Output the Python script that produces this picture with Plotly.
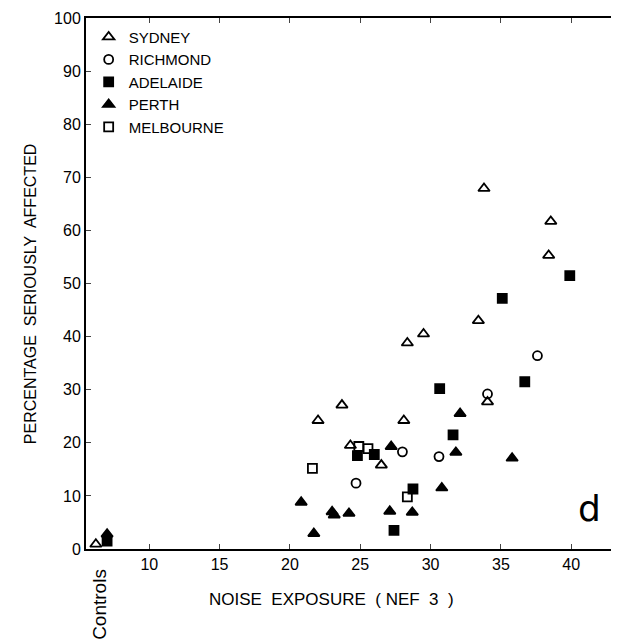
import plotly.graph_objects as go

# readings from the scanned figure (NEF, % seriously affected)
sydney_x = [6.2, 22.0, 23.7, 24.3, 26.5, 28.1, 28.35, 29.5, 33.4, 33.8, 34.05, 38.4, 38.55]
sydney_y = [0.9, 24.2, 27.1, 19.5, 15.8, 24.2, 38.8, 40.5, 43.0, 67.9, 27.7, 55.3, 61.7]

richmond_x = [24.7, 28.0, 30.6, 34.05, 37.6]
richmond_y = [12.4, 18.3, 17.4, 29.2, 36.4]

adelaide_x = [7.0, 24.8, 26.0, 27.4, 28.75, 30.65, 31.6, 35.1, 36.7, 39.9]
adelaide_y = [1.5, 17.6, 17.8, 3.5, 11.3, 30.2, 21.5, 47.2, 31.5, 51.5]

perth_x = [7.0, 20.8, 21.7, 23.0, 23.15, 24.2, 27.1, 27.2, 28.7, 30.8, 31.8, 32.1, 35.8]
perth_y = [2.8, 8.8, 2.9, 7.0, 6.4, 6.7, 7.1, 19.3, 6.9, 11.5, 18.2, 25.5, 17.1]

melbourne_x = [21.6, 24.9, 25.55, 28.35]
melbourne_y = [15.2, 19.3, 18.9, 9.8]

x_ticks = [10, 15, 20, 25, 30, 35, 40]
y_ticks = [0, 10, 20, 30, 40, 50, 60, 70, 80, 90, 100]

FONT = "Liberation Sans"

fig = go.Figure()

series = [
    ("SYDNEY", sydney_x, sydney_y, "triangle-up-open", 10),
    ("RICHMOND", richmond_x, richmond_y, "circle-open", 9),
    ("ADELAIDE", adelaide_x, adelaide_y, "square", 9),
    ("PERTH", perth_x, perth_y, "triangle-up", 10),
    ("MELBOURNE", melbourne_x, melbourne_y, "square-open", 9),
]
for name, xs, ys, sym, size in series:
    fig.add_trace(go.Scatter(
        x=xs, y=ys, mode="markers", name=name,
        marker=dict(symbol=sym, size=size, color="black",
                    line=dict(color="black", width=1.8)),
    ))

fig.add_annotation(x=41.3, y=7.7, text="d", showarrow=False,
                   font=dict(size=36, family="DejaVu Sans", color="black"))
fig.add_annotation(x=6.45, y=0, yref="y", text="Controls", showarrow=False,
                   textangle=-90, yanchor="top", yshift=-18,
                   font=dict(size=19, family=FONT, color="black"))
fig.add_annotation(x=0.46, xref="paper", y=-0.095, yref="paper",
                   text="NOISE  EXPOSURE  ( NEF  3  )", showarrow=False,
                   yanchor="middle", font=dict(size=17, family=FONT, color="black"))
fig.add_annotation(x=-0.105, xref="paper", y=0.48, yref="paper",
                   text="PERCENTAGE  SERIOUSLY  AFFECTED", showarrow=False,
                   textangle=-90, xanchor="center",
                   font=dict(size=16, family=FONT, color="black"))

fig.update_layout(
    width=611, height=636,
    plot_bgcolor="white", paper_bgcolor="white",
    margin=dict(l=78, r=0, t=10, b=95),
    font=dict(family=FONT, size=16, color="black"),
    showlegend=True,
    legend=dict(x=0.005, y=0.995, xanchor="left", yanchor="top",
                bgcolor="rgba(0,0,0,0)", font=dict(size=15),
                itemsizing="trace", tracegroupgap=0),
)
fig.update_xaxes(
    range=[5.5, 43.4], tickvals=x_ticks, ticks="inside", ticklen=5,
    showline=True, linecolor="black", linewidth=2, mirror="ticks",
    showgrid=False, zeroline=False,
)
fig.update_yaxes(
    range=[0, 100], tickvals=y_ticks, ticks="inside", ticklen=5,
    showline=True, linecolor="black", linewidth=2,
    showgrid=False, zeroline=False,
)

fig.write_html("out.html")
